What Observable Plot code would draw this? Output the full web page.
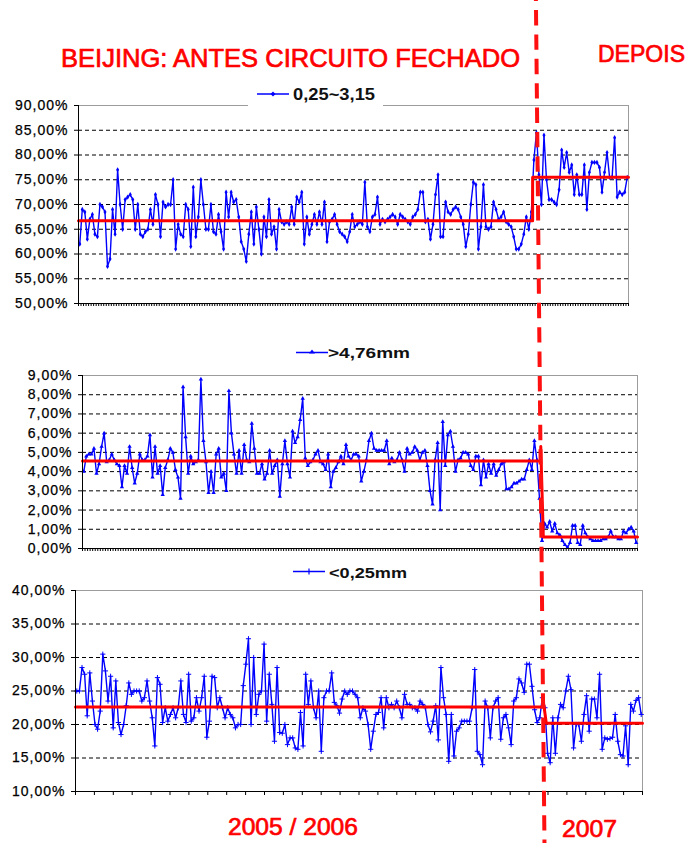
<!DOCTYPE html>
<html><head><meta charset="utf-8">
<script src="https://cdn.jsdelivr.net/npm/d3@7"></script>
<script src="https://cdn.jsdelivr.net/npm/@observablehq/plot@0.6"></script>
<style>
body{margin:0;background:#fff;}
#wrap{position:relative;width:692px;height:843px;overflow:hidden;background:#fff;}
#wrap svg{position:absolute;left:0;}
</style></head>
<body><div id="wrap"></div>
<script>
// ---------- data ----------
const BREAK = 180; // first index of 2007 ("DEPOIS")
const p1Before = [
62,69,68.5,63,67,68,64,63.5,70,69.5,
68.5,57.5,59,69,64,77,70,65,71,71.5,
72,71,65,70,64,63.5,64.5,65,69,66,
72,70,63.5,70.5,69.5,70,70,75,61,66,
64,63.5,70,69,61.5,73.5,63.5,67.5,75,70,
65,65,70,64.5,64,68,64.5,61,72.5,67.5,
72.5,70.5,71,67.5,62.5,61,58.5,64,68.5,62,
69.5,65,60,67.5,63.5,71,64,65.5,61,69,
66.5,66,66.5,66,69.5,66,71.5,70.5,72.5,62,
67.5,64,66,68,66,68.5,66,70.5,62.5,66.5,
67,68,66,64.5,64,63.5,62.5,64.5,68,65.5,
66,66.5,66,74.5,65.5,64.5,67.5,68,71.5,66,
67,66.5,67,67.5,68,67.5,66,68,67.5,67,
66.5,66,67.5,68,69,72.5,72.5,66.5,67,63,
66,72,76,63.5,63.5,70.5,68.5,68,69,69.5,
69,67.5,66,61.5,64,70,74.5,74,61,65.5,
74,65.5,65,65.5,70.5,69,67,67.5,68.5,66.5,
66,65.5,63.5,61,61,62,64,67.5,65,68.5];
const p1After = [
79,84.5,76,70,84,75,71,71,70.5,70,
73,81,77.5,80.5,76.5,78,72,76,72,72,
78,69,76.5,78.5,78.5,78.5,77.5,72.5,76.5,80.5,
75.5,75.5,83.5,71.5,72.5,72,72.5,75.5];
const p2Before = [
4.0,4.8,4.9,4.9,5.2,3.9,4.4,5.3,6.0,4.5,
4.6,4.9,4.6,4.4,4.3,3.2,4.3,3.9,5.3,4.2,
3.4,3.9,4.9,4.6,4.6,4.8,5.9,3.7,5.3,3.9,
4.3,2.8,4.2,4.6,5.2,5.0,4.1,3.7,2.6,8.4,
5.8,3.9,4.8,4.4,4.5,4.6,8.8,5.6,4.5,2.9,
4.0,2.9,4.9,5.2,3.7,3.9,3.0,8.2,6.0,4.9,
3.9,5.1,3.9,5.4,4.6,4.5,6.5,5.2,3.9,3.9,
4.4,3.6,3.9,5.1,3.9,4.3,4.6,2.7,4.4,5.6,
4.4,3.7,6.1,5.5,5.8,6.7,7.8,4.7,4.3,4.5,
4.6,4.9,5.1,4.5,4.4,4.1,4.9,3.2,4.0,4.2,
4.5,4.8,4.4,5.4,4.8,4.6,4.9,4.9,4.8,3.5,
4.0,4.6,5.6,6.0,5.2,5.1,5.1,5.1,5.1,5.6,
4.4,4.7,4.5,4.6,5.0,4.6,4.0,5.2,4.9,5.0,
5.3,5.1,4.6,5.0,5.1,4.3,3.0,2.3,4.6,5.5,
2.0,6.6,4.3,5.9,6.1,5.3,4.0,4.6,4.7,5.0,
5.0,4.9,4.3,4.1,4.8,4.8,3.3,4.6,3.7,4.4,
3.9,4.4,3.8,4.1,4.4,4.5,3.1,3.1,3.2,3.4,
3.4,3.5,3.6,3.6,4.1,4.6,4.1,5.6,4.6,2.6];
const p2After = [
0.4,1.3,1.1,1.4,0.9,1.3,0.8,0.7,0.4,0.2,
0.05,0.3,1.2,1.2,0.3,0.2,1.2,0.8,0.6,0.5,
0.4,0.4,0.4,0.4,0.5,0.5,0.6,0.9,0.6,0.6,
0.5,0.5,0.9,0.8,1.0,1.1,0.9,0.3];
const p3Before = [
25,25,28.5,27.5,21.3,27.7,23.5,20,19.3,22,
30.5,28,23.5,27.2,19.5,26.5,20.3,18.5,20,22.8,
26.2,24.5,25,25,25,23.5,24,26.5,23.5,21,
16.8,27,26,20.3,22.5,20.5,21.5,22.5,21,22.5,
26.5,21.5,20.3,27.5,20.5,21,24,22,24,27.2,
18.1,20.5,27.2,27,22.5,24,22.5,21,22.5,21.5,
21,19.5,20,20,25.8,29,32.8,20,30,21.5,
24.5,25,32,20.5,27.5,23,17.5,28.5,18.8,18.7,
20,17,18,18,16.5,16.3,21.8,16.8,27.5,23,
26.5,22.5,21,25,16,24,25,25,27.7,23.3,
22.8,21.7,23.8,25,24.5,25,25,24.5,24,21,
22.5,22,20,16.3,19,21.5,21.8,24,19.5,24,
22.5,23,22.5,23.5,22.5,21,24.5,23,23,22.5,
22.5,22,23.5,23,22.5,20,18.9,20.5,22.8,17.7,
28.5,24,21.5,14.5,21.5,15.3,19,19.5,20.5,20.5,
20.5,20.5,22.5,28.2,16,15.5,14,23.5,22.5,18,
22.5,23.5,24,17.8,21,21.5,19.5,17,23.5,24,
26.8,26.2,24.8,29,29,25.7,22.2,20.3,21,24];
const p3After = [
22.5,15.7,14.3,21,15.7,21,23,22.5,25,27.2,
25.2,16.5,20,20,17.5,21.5,24.3,19,23.8,23.8,
21,27.5,16.3,18,17.8,17.9,18.1,21.5,17.5,15.5,
15.3,19.8,14,23,22,23.6,24,21.5];

// mean (red) lines: before / after levels, plus the top/bottom of the jump
const p1Means = [66.7, 75.5];
const p2Means = [4.55, 0.6], p2Jump = [5.3, 0.6];
const p3Means = [22.6, 20.2], p3Jump = [23.1, 20.2];

const p1Ticks = [50,55,60,65,70,75,80,85,90];
const p2Ticks = [0,1,2,3,4,5,6,7,8,9];
const p3Ticks = [10,15,20,25,30,35,40];

const seriesNames = ["0,25~3,15", ">4,76mm", "<0,25mm"];
const titles = ["BEIJING: ANTES CIRCUITO FECHADO", "DEPOIS", "2005 / 2006", "2007"];

// ---------- build ----------
const wrap = document.getElementById("wrap");
const FONT = "'Liberation Sans', Arial, sans-serif";
const fmt = d => d.toFixed(2).replace(".", ",") + "%";

function makePanel(cfg) {
  const values = [...cfg.before, ...cfg.after];
  const N = values.length;
  const data = values.map((v, i) => ({i, v}));
  const b = cfg.before.length - 0.5;
  const red = [
    {x: -0.5, y: cfg.means[0]},
    {x: b, y: cfg.means[0]},
    {x: b, y: cfg.jump ? cfg.jump[0] : cfg.means[1]},
    {x: cfg.jump ? b + 1 : b, y: cfg.means[1]},
    {x: N - 0.5, y: cfg.means[1]}
  ];
  const y0 = cfg.ticks[0], y1 = cfg.ticks[cfg.ticks.length - 1];
  const dotOpts = cfg.symbol === "plus"
    ? {x: "i", y: "v", symbol: "plus", r: 1.8, stroke: "#0000ff", strokeWidth: 1}
    : {x: "i", y: "v", symbol: cfg.symbol, r: 1.6, fill: "#0000ff"};
  const plot = Plot.plot({
    width: 692, height: cfg.h,
    marginLeft: cfg.ml, marginRight: cfg.mr, marginTop: cfg.mt, marginBottom: cfg.mb,
    style: {fontFamily: FONT, fontSize: "14px", color: "#000", background: "transparent", overflow: "visible"},
    x: {domain: [-0.5, N - 0.5], axis: null},
    y: {domain: [y0, y1], axis: null},
    marks: [
      Plot.ruleY(cfg.ticks.slice(1, -1), {stroke: "#000", strokeDasharray: "4,3", strokeWidth: 1}),
      Plot.ruleY([y1], {stroke: "#9c9c9c", strokeWidth: 1}),
      Plot.ruleX([N - 0.5], {stroke: "#9c9c9c", strokeWidth: 1}),
      Plot.line(data, {x: "i", y: "v", stroke: "#0000ff", strokeWidth: 1.4}),
      Plot.dot(data, dotOpts),
      Plot.line(red, {x: "x", y: "y", stroke: "#ff0000", strokeWidth: 3}),
      Plot.ruleX([-0.5], {stroke: "#000", strokeWidth: 1}),
      Plot.ruleY([y0], {stroke: "#000", strokeWidth: 1}),
      Plot.axisY(cfg.ticks, {tickSize: 4, tickPadding: 6, tickFormat: fmt, fontSize: 14}),
      Plot.axisX(cfg.xTicks(N), {tickSize: cfg.xTickSize, tickFormat: () => "", strokeWidth: 1})
    ]
  });
  plot.style.top = cfg.top + "px";
  plot.querySelectorAll("text").forEach(t => { t.style.letterSpacing = "1px"; t.setAttribute("stroke", "#000"); t.setAttribute("stroke-width", "0.25"); });
  wrap.appendChild(plot);
  return plot;
}

const denseTicks = N => d3.range(N + 1).map(k => k - 0.5);
const p1 = makePanel({before: p1Before, after: p1After, means: p1Means, ticks: p1Ticks, symbol: "diamond",
  top: 85, h: 235, ml: 78, mr: 64, mt: 20, mb: 17, xTicks: denseTicks, xTickSize: 3});
const p2 = makePanel({before: p2Before, after: p2After, means: p2Means, jump: p2Jump, ticks: p2Ticks, symbol: "triangle",
  top: 355, h: 210, ml: 82, mr: 55, mt: 20, mb: 17, xTicks: denseTicks, xTickSize: 3});
const p3 = makePanel({before: p3Before, after: p3After, means: p3Means, jump: p3Jump, ticks: p3Ticks, symbol: "plus",
  top: 570, h: 240, ml: 75, mr: 50, mt: 20, mb: 19, xTicks: N => d3.range(31).map(k => -0.5 + k * N / 30), xTickSize: 4});

// ---------- overlay: legends, titles, dashed break line ----------
const ov = d3.select(wrap).append("svg").attr("width", 692).attr("height", 843).style("top", "0px");

function legend(x0, y, textX, baseline, size, len, name, marker, bg) {
  const g = ov.append("g");
  if (bg) g.append("rect").attr("x", bg[0]).attr("y", bg[1]).attr("width", bg[2]).attr("height", bg[3]).attr("fill", "#fff");
  g.append("line").attr("x1", x0).attr("x2", x0 + 32).attr("y1", y).attr("y2", y).attr("stroke", "#0000ff").attr("stroke-width", 1.5);
  const cx = x0 + 16;
  if (marker === "diamond") g.append("path").attr("d", `M${cx},${y-2.5}L${cx+2.5},${y}L${cx},${y+2.5}L${cx-2.5},${y}Z`).attr("fill", "#0000ff");
  if (marker === "triangle") g.append("path").attr("d", `M${cx},${y-3}L${cx+3},${y+1}L${cx-3},${y+1}Z`).attr("fill", "#0000ff");
  if (marker === "plus") g.append("path").attr("d", `M${cx},${y-3}V${y+3}`).attr("stroke", "#0000ff").attr("stroke-width", 1.2);
  g.append("text").attr("x", textX).attr("y", baseline).attr("font-family", FONT).attr("font-weight", "bold")
    .attr("font-size", size).attr("fill", "#111").attr("textLength", len).attr("lengthAdjust", "spacingAndGlyphs").text(name);
}
legend(257, 94, 293, 100, 16, 82, seriesNames[0], "diamond", [248, 82, 135, 25]);
legend(296, 352.5, 328, 357.5, 15, 82, seriesNames[1], "triangle", null);
legend(293, 571.5, 329, 577.5, 15, 78, seriesNames[2], "plus", null);

function title(txt, x, baseline, size, len) {
  ov.append("text").attr("x", x).attr("y", baseline).attr("font-family", FONT).attr("font-size", size)
    .attr("fill", "#ff0000").attr("stroke", "#ff0000").attr("stroke-width", 0.7)
    .attr("textLength", len).attr("lengthAdjust", "spacingAndGlyphs").text(txt);
}
title(titles[0], 61, 67, 25.5, 459);
title(titles[1], 598, 62, 24, 87);
title(titles[2], 228, 835, 24.5, 130);
title(titles[3], 562, 837, 24, 55);

// dashed break line: positioned from the panels' own x scales at the break
const xTop = p1.scale("x").apply(BREAK + 1);
const xBot = p3.scale("x").apply(BREAK);
ov.append("line").attr("x1", xTop).attr("y1", 0).attr("x2", xBot).attr("y2", 843)
  .attr("stroke", "#ff1010").attr("stroke-width", 4).attr("stroke-dasharray", "15.4,9").attr("stroke-dashoffset", 14.4);
</script></body></html>
